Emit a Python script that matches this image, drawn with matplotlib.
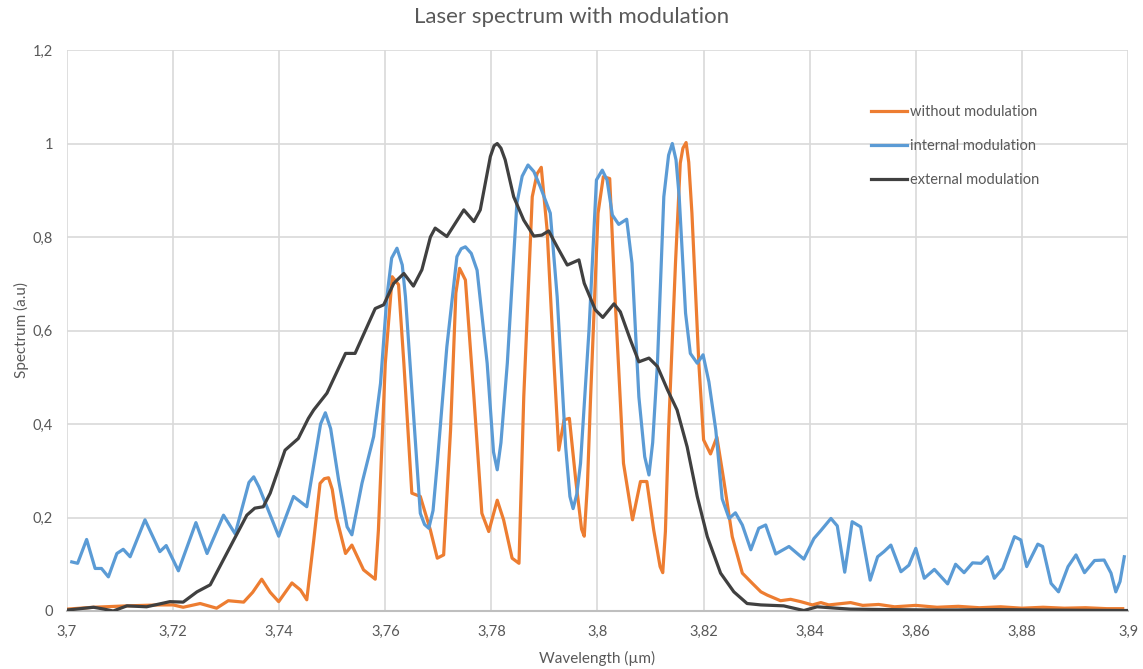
import matplotlib
matplotlib.use('Agg')
import matplotlib.pyplot as plt
from matplotlib.ticker import FuncFormatter

# wavelength (um) / spectrum values
wl_internal = [3.7009, 3.7020, 3.7037, 3.7053, 3.7065, 3.7078, 3.7094, 3.7106, 3.7119, 3.7147,
               3.7175, 3.7187, 3.7210, 3.7243, 3.7264, 3.7295, 3.7317, 3.7343, 3.7352, 3.7362,
               3.7399, 3.7427, 3.7452, 3.7478, 3.7487, 3.7497, 3.7512, 3.7528, 3.7537, 3.7556,
               3.7578, 3.7591, 3.7603, 3.7612, 3.7622, 3.7632, 3.7638, 3.7653, 3.7666, 3.7674,
               3.7682, 3.7690, 3.7698, 3.7716, 3.7735, 3.7743, 3.7751, 3.7762, 3.7773, 3.7792,
               3.7804, 3.7811, 3.7818, 3.7830, 3.7848, 3.7858, 3.7869, 3.7880, 3.7892, 3.7911,
               3.7924, 3.7940, 3.7948, 3.7954, 3.7961, 3.7968, 3.7984, 3.7998, 3.8009, 3.8018,
               3.8028, 3.8040, 3.8055, 3.8065, 3.8078, 3.8089, 3.8097, 3.8104, 3.8113, 3.8125,
               3.8134, 3.8141, 3.8148, 3.8154, 3.8166, 3.8175, 3.8188, 3.8199, 3.8210, 3.8223,
               3.8235, 3.8248, 3.8260, 3.8273, 3.8289, 3.8304, 3.8317, 3.8336, 3.8361, 3.8389,
               3.8408, 3.8421, 3.8440, 3.8452, 3.8466, 3.8480, 3.8496, 3.8514, 3.8528, 3.8540,
               3.8553, 3.8572, 3.8587, 3.8600, 3.8616, 3.8635, 3.8660, 3.8675, 3.8691, 3.8707,
               3.8723, 3.8735, 3.8748, 3.8764, 3.8786, 3.8798, 3.8809, 3.8830, 3.8839, 3.8855,
               3.8869, 3.8887, 3.8902, 3.8918, 3.8937, 3.8955, 3.8968, 3.8977, 3.8985, 3.8993]
sp_internal = [0.105, 0.102, 0.153, 0.091, 0.091, 0.073, 0.123, 0.132, 0.116, 0.195,
               0.127, 0.140, 0.086, 0.189, 0.123, 0.205, 0.165, 0.275, 0.287, 0.265,
               0.160, 0.245, 0.223, 0.400, 0.424, 0.390, 0.280, 0.180, 0.163, 0.273,
               0.373, 0.487, 0.672, 0.755, 0.776, 0.740, 0.672, 0.423, 0.209, 0.185,
               0.177, 0.215, 0.316, 0.565, 0.758, 0.775, 0.779, 0.765, 0.729, 0.530,
               0.340, 0.302, 0.360, 0.530, 0.872, 0.930, 0.954, 0.940, 0.908, 0.851,
               0.672, 0.351, 0.245, 0.219, 0.250, 0.316, 0.601, 0.922, 0.943, 0.922,
               0.847, 0.827, 0.838, 0.744, 0.458, 0.330, 0.291, 0.360, 0.530, 0.886,
               0.975, 1.000, 0.965, 0.886, 0.637, 0.551, 0.530, 0.548, 0.490, 0.387,
               0.240, 0.198, 0.210, 0.184, 0.131, 0.177, 0.184, 0.122, 0.138, 0.111,
               0.155, 0.172, 0.198, 0.182, 0.083, 0.191, 0.180, 0.066, 0.116, 0.127,
               0.141, 0.084, 0.098, 0.134, 0.070, 0.089, 0.058, 0.100, 0.082, 0.103,
               0.102, 0.116, 0.070, 0.091, 0.159, 0.152, 0.095, 0.143, 0.138, 0.059,
               0.041, 0.095, 0.120, 0.082, 0.108, 0.109, 0.081, 0.041, 0.063, 0.116]

wl_without = [3.7000, 3.7050, 3.7113, 3.7175, 3.7200, 3.7219, 3.7251, 3.7282, 3.7304, 3.7333,
              3.7350, 3.7367, 3.7383, 3.7399, 3.7424, 3.7440, 3.7452, 3.7465, 3.7477, 3.7485,
              3.7493, 3.7500, 3.7508, 3.7525, 3.7537, 3.7559, 3.7581, 3.7587, 3.7600, 3.7613,
              3.7625, 3.7635, 3.7650, 3.7666, 3.7685, 3.7698, 3.7710, 3.7723, 3.7733, 3.7740,
              3.7751, 3.7767, 3.7782, 3.7795, 3.7811, 3.7823, 3.7839, 3.7852, 3.7861, 3.7877,
              3.7886, 3.7894, 3.7905, 3.7918, 3.7927, 3.7937, 3.7947, 3.7959, 3.7970, 3.7975,
              3.7981, 3.7987, 3.8001, 3.8011, 3.8023, 3.8033, 3.8049, 3.8066, 3.8081, 3.8093,
              3.8106, 3.8118, 3.8123, 3.8128, 3.8134, 3.8147, 3.8156, 3.8161, 3.8167, 3.8172,
              3.8178, 3.8191, 3.8200, 3.8213, 3.8225, 3.8238, 3.8254, 3.8273, 3.8292, 3.8308,
              3.8320, 3.8345, 3.8364, 3.8383, 3.8405, 3.8421, 3.8436, 3.8477, 3.8500, 3.8530,
              3.8560, 3.8600, 3.8640, 3.8680, 3.8720, 3.8760, 3.8800, 3.8840, 3.8880, 3.8920,
              3.8960, 3.8990]
sp_without = [0.004, 0.008, 0.011, 0.013, 0.013, 0.008, 0.016, 0.006, 0.022, 0.019,
              0.040, 0.068, 0.040, 0.020, 0.060, 0.045, 0.024, 0.150, 0.273, 0.283,
              0.285, 0.260, 0.200, 0.123, 0.141, 0.088, 0.068, 0.173, 0.530, 0.715,
              0.698, 0.530, 0.252, 0.245, 0.173, 0.113, 0.120, 0.387, 0.680, 0.733,
              0.708, 0.458, 0.209, 0.170, 0.237, 0.195, 0.113, 0.102, 0.458, 0.886,
              0.935, 0.949, 0.815, 0.530, 0.344, 0.409, 0.412, 0.280, 0.175, 0.160,
              0.270, 0.458, 0.851, 0.929, 0.925, 0.672, 0.316, 0.195, 0.277, 0.277,
              0.173, 0.095, 0.082, 0.170, 0.387, 0.744, 0.958, 0.990, 1.002, 0.960,
              0.851, 0.530, 0.366, 0.336, 0.372, 0.280, 0.159, 0.081, 0.059, 0.041,
              0.034, 0.022, 0.025, 0.020, 0.013, 0.018, 0.013, 0.018, 0.012, 0.014,
              0.009, 0.012, 0.008, 0.010, 0.007, 0.009, 0.006, 0.008, 0.006, 0.007,
              0.005, 0.005]

wl_external = [3.7000, 3.7050, 3.7070, 3.7087, 3.7113, 3.7150, 3.7194, 3.7219, 3.7245, 3.7270,
               3.7301, 3.7339, 3.7354, 3.7370, 3.7383, 3.7411, 3.7436, 3.7455, 3.7465, 3.7490,
               3.7525, 3.7543, 3.7581, 3.7597, 3.7616, 3.7635, 3.7653, 3.7669, 3.7685, 3.7694,
               3.7716, 3.7748, 3.7767, 3.7779, 3.7798, 3.7805, 3.7811, 3.7818, 3.7826, 3.7842,
               3.7861, 3.7880, 3.7895, 3.7908, 3.7924, 3.7943, 3.7965, 3.7975, 3.7996, 3.8010,
               3.8031, 3.8043, 3.8062, 3.8078, 3.8097, 3.8113, 3.8132, 3.8150, 3.8169, 3.8188,
               3.8207, 3.8232, 3.8257, 3.8282, 3.8308, 3.8351, 3.8389, 3.8414, 3.8450, 3.8477,
               3.8550, 3.8650, 3.8750, 3.8850, 3.9000]
sp_external = [0.002, 0.008, 0.004, 0.000, 0.011, 0.009, 0.020, 0.019, 0.041, 0.056,
               0.123, 0.205, 0.220, 0.223, 0.252, 0.344, 0.369, 0.412, 0.430, 0.466,
               0.551, 0.551, 0.647, 0.655, 0.701, 0.722, 0.695, 0.730, 0.800, 0.819,
               0.801, 0.858, 0.833, 0.858, 0.972, 0.995, 1.000, 0.990, 0.965, 0.886,
               0.836, 0.802, 0.804, 0.813, 0.779, 0.740, 0.751, 0.701, 0.644, 0.628,
               0.657, 0.640, 0.580, 0.533, 0.541, 0.523, 0.473, 0.430, 0.351, 0.245,
               0.159, 0.081, 0.041, 0.016, 0.013, 0.011, 0.001, 0.009, 0.006, 0.004,
               0.003, 0.002, 0.003, 0.002, 0.001]

x_ticks = [3.70, 3.72, 3.74, 3.76, 3.78, 3.80, 3.82, 3.84, 3.86, 3.88, 3.90]
y_ticks = [0, 0.2, 0.4, 0.6, 0.8, 1.0, 1.2]

txt_color = '#595959'
plt.rcParams['font.family'] = ['Lato', 'DejaVu Sans']

fig = plt.figure(figsize=(11.43, 6.69), dpi=100)
ax = fig.add_axes([67 / 1143, 1 - 611 / 669, (1128 - 67) / 1143, (611 - 50) / 669])

ax.plot(wl_without, sp_without, color='#ED7D31', lw=2.3, label='without modulation',
        solid_joinstyle='round', zorder=3)
ax.plot(wl_internal, sp_internal, color='#5B9BD5', lw=2.3, label='internal modulation',
        solid_joinstyle='round', zorder=3)
ax.plot(wl_external, sp_external, color='#404040', lw=2.3, label='external modulation',
        solid_joinstyle='round', zorder=4)

ax.set_xlim(3.7, 3.9)
ax.set_ylim(0, 1.2)
ax.set_xticks(x_ticks)
ax.set_yticks(y_ticks)


def comma_fmt(v, pos):
    s = ('%.2f' % v).rstrip('0').rstrip('.')
    return s.replace('.', ',')


ax.xaxis.set_major_formatter(FuncFormatter(comma_fmt))
ax.yaxis.set_major_formatter(FuncFormatter(comma_fmt))
ax.grid(True, color='#D9D9D9', lw=1.2)
ax.set_axisbelow(True)
for s in ['top', 'right', 'left']:
    ax.spines[s].set_visible(False)
ax.spines['bottom'].set_color('#BFBFBF')
ax.spines['bottom'].set_linewidth(1.5)
ax.tick_params(length=0, labelsize=10.5, colors=txt_color, pad=10)

ax.set_xlabel('Wavelength (µm)', fontsize=11, color=txt_color, labelpad=9)
ax.set_ylabel('Spectrum (a.u)', fontsize=11, color=txt_color, labelpad=3)
fig.suptitle('Laser spectrum with modulation', fontsize=16, color=txt_color, y=0.99)

# legend sits inside the plot, top right, no frame (Excel style)
leg = ax.legend(loc='upper left', bbox_to_anchor=(0.745, 0.925), frameon=False,
                fontsize=10.5, handlelength=2.5, handletextpad=0.2, labelspacing=1.38)
for t in leg.get_texts():
    t.set_color(txt_color)

fig.savefig('out.png', dpi=100, facecolor='white')
